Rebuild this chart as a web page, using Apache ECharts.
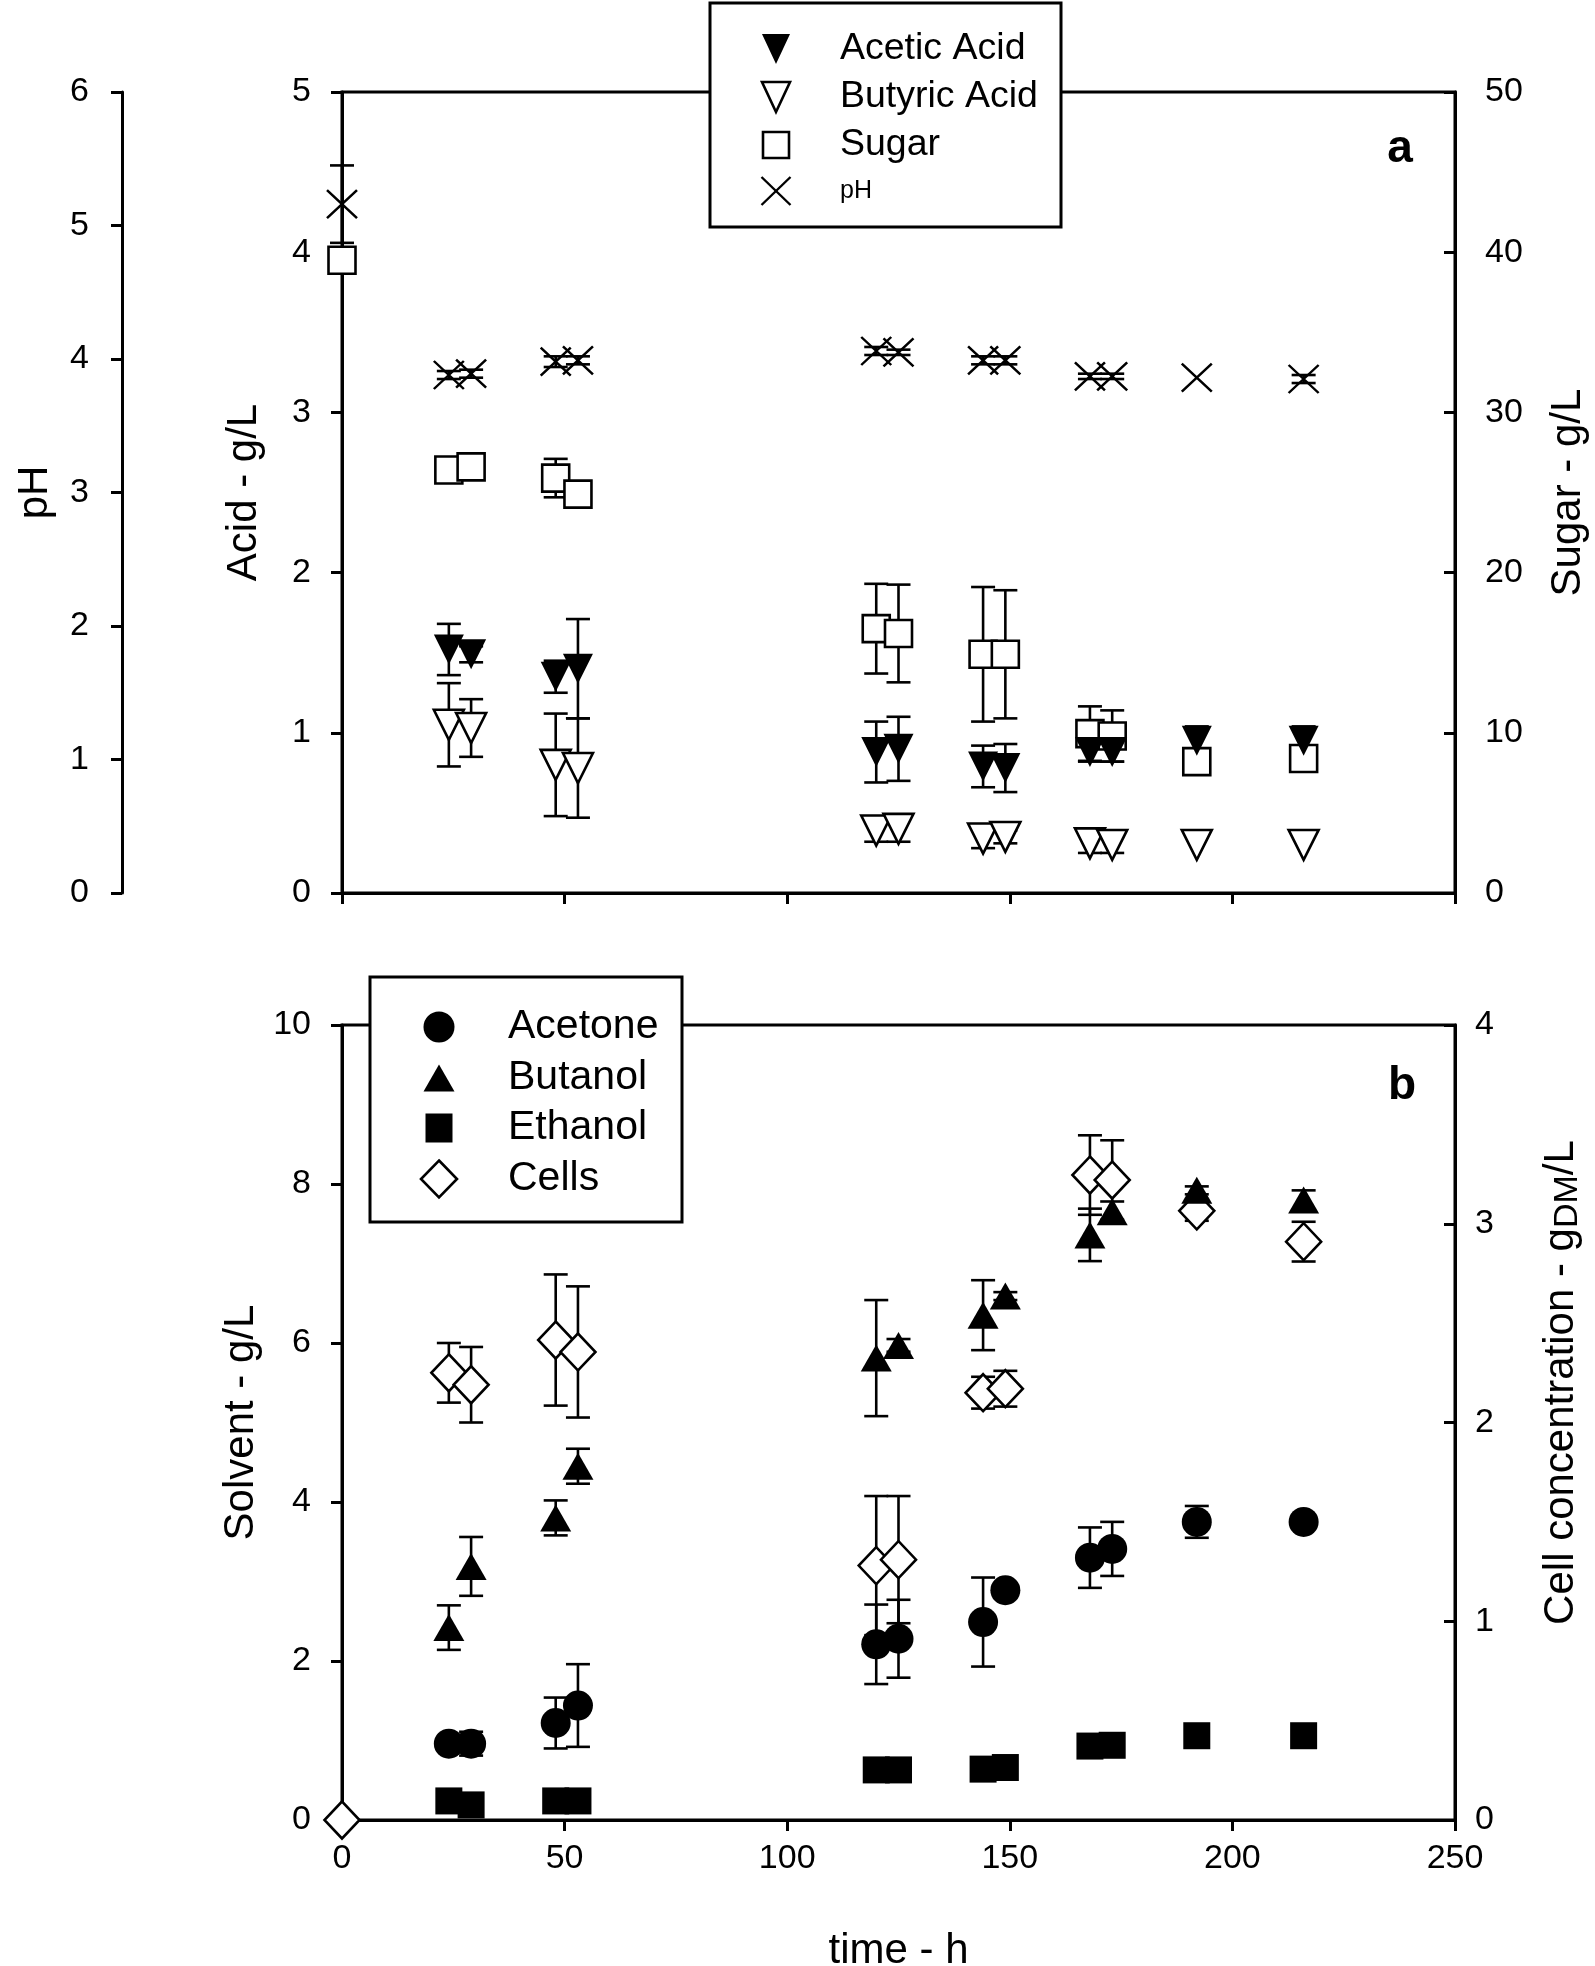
<!DOCTYPE html>
<html>
<head>
<meta charset="utf-8">
<script src="https://cdn.jsdelivr.net/npm/echarts@6/dist/echarts.min.js"></script>
<style>
html,body{margin:0;padding:0;background:#fff;}
#chart{width:1595px;height:1966px;}
</style>
</head>
<body>
<div id="chart"></div>
<script>
// ---- data ----
const times = [0, 24, 29, 48, 53, 120, 125, 144, 149, 168, 173, 192, 216];
const timeTicks = [0, 50, 100, 150, 200, 250];

// panel a
const aceticAcid  = [null, 1.52, 1.49, 1.35, 1.40, 0.88, 0.90, 0.79, 0.78, 0.88, 0.88, 0.95, 0.95];
const aceticErr   = [null, 0.16, 0.05, 0.10, 0.31, 0.19, 0.20, 0.13, 0.15, 0.06, 0.06, 0.09, 0.09];
const butyricAcid = [null, 1.05, 1.03, 0.80, 0.78, 0.39, 0.40, 0.34, 0.35, 0.31, 0.30, 0.30, 0.30];
const butyricErr  = [null, 0.26, 0.18, 0.32, 0.31, 0.07, 0.08, 0.06, 0.04, 0.06, 0.05, 0, 0];
const sugar       = [39.5, 26.4, 26.6, 25.9, 24.9, 16.5, 16.2, 14.9, 14.9, 9.95, 9.8, 8.2, 8.4];
const sugarErr    = [0.3, 0.3, 0.3, 1.2, 0.3, 2.8, 3.05, 4.2, 4.0, 1.7, 1.6, 0, 0];
const pHValues    = [5.16, 3.88, 3.89, 3.98, 3.99, 4.06, 4.05, 3.99, 3.99, 3.87, 3.87, 3.86, 3.85];
const pHErr       = [0.29, 0.03, 0.03, 0.04, 0.03, 0.03, 0.02, 0.03, 0.03, 0.02, 0.02, 0, 0.03];

// panel b
const acetone     = [null, 0.96, 0.96, 1.22, 1.44, 2.21, 2.28, 2.49, 2.89, 3.30, 3.41, 3.75, 3.75];
const acetoneErr  = [null, 0.05, 0.15, 0.32, 0.52, 0.50, 0.49, 0.56, 0, 0.38, 0.34, 0.20, 0.05];
const butanol     = [null, 2.42, 3.19, 3.80, 4.45, 5.81, 5.97, 6.35, 6.59, 7.36, 7.65, 7.92, 7.80];
const butanolErr  = [null, 0.28, 0.37, 0.22, 0.22, 0.73, 0.08, 0.44, 0.05, 0.33, 0.13, 0.05, 0.12];
const ethanol     = [null, 0.24, 0.19, 0.24, 0.24, 0.63, 0.63, 0.64, 0.66, 0.93, 0.94, 1.06, 1.06];
const cells       = [0, 2.25, 2.19, 2.415, 2.355, 1.28, 1.31, 2.15, 2.17, 3.245, 3.22, 3.065, 2.91];
const cellsErr    = [0, 0.15, 0.19, 0.33, 0.33, 0.35, 0.32, 0.08, 0.09, 0.20, 0.20, 0.05, 0.10];

const legendA = ['Acetic Acid', 'Butyric Acid', 'Sugar', 'pH'];
const legendB = ['Acetone', 'Butanol', 'Ethanol', 'Cells'];

// ---- helpers ----
const FONT = "'Liberation Sans', Arial, sans-serif";
const DOWN_TRI = 'path://M0,0L20,0L10,20Z';
const UP_TRI = 'path://M10,0L20,17.3L0,17.3Z';
const SQUARE = 'path://M0,0L10,0L10,10L0,10Z';
const DIAMOND = 'path://M10,0L20,10L10,20L0,10Z';
const X_MARK = 'path://M0,0L10,10M10,0L0,10';

function points(vals) {
  return times.map((t, i) => vals[i] == null ? null : [t, vals[i]]).filter(Boolean);
}
function errData(vals, errs) {
  return times.map((t, i) => (vals[i] == null || !errs[i]) ? null : [t, vals[i] - errs[i], vals[i] + errs[i]]).filter(Boolean);
}
function errSeries(name, vals, errs, xi, yi) {
  return {
    name: name + ' err', type: 'custom', xAxisIndex: xi, yAxisIndex: yi, clip: false, z: 1,
    encode: { x: 0, y: [1, 2] },
    data: errData(vals, errs),
    renderItem: function (params, api) {
      const x = api.value(0);
      const lo = api.coord([x, api.value(1)]);
      const hi = api.coord([x, api.value(2)]);
      const w = 12;
      const st = { stroke: '#000', lineWidth: 2.6 };
      return { type: 'group', children: [
        { type: 'line', shape: { x1: lo[0], y1: lo[1], x2: hi[0], y2: hi[1] }, style: st },
        { type: 'line', shape: { x1: hi[0] - w, y1: hi[1], x2: hi[0] + w, y2: hi[1] }, style: st },
        { type: 'line', shape: { x1: lo[0] - w, y1: lo[1], x2: lo[0] + w, y2: lo[1] }, style: st }
      ]};
    }
  };
}
function scatter(name, vals, xi, yi, symbol, size, itemStyle) {
  return { name: name, type: 'scatter', xAxisIndex: xi, yAxisIndex: yi, clip: false, z: 3,
    symbol: symbol, symbolSize: size, itemStyle: itemStyle, data: points(vals),
    emphasis: { disabled: true } };
}

const openStyle = { color: '#fff', borderColor: '#000', borderWidth: 2.6, opacity: 1 };
const fillStyle = { color: '#000', borderWidth: 0, opacity: 1 };
const xStyle = { color: 'transparent', borderColor: '#000', borderWidth: 2.4, opacity: 1 };

// legend keys built as graphic elements
const gOpen = { fill: '#fff', stroke: '#000', lineWidth: 2.6 };
const gFill = { fill: '#000' };
const gX = { fill: 'none', stroke: '#000', lineWidth: 2.4 };
function keySymbol(kind, cx, cy, w, h, style) {
  const l = cx - w / 2, r = cx + w / 2, t = cy - h / 2, b = cy + h / 2;
  if (kind === 'circle') return { type: 'circle', shape: { cx: cx, cy: cy, r: w / 2 }, style: style };
  if (kind === 'down') return { type: 'polygon', shape: { points: [[l, t], [r, t], [cx, b]] }, style: style };
  if (kind === 'up') return { type: 'polygon', shape: { points: [[cx, t], [r, b], [l, b]] }, style: style };
  if (kind === 'square') return { type: 'rect', shape: { x: l, y: t, width: w, height: h }, style: style };
  if (kind === 'diamond') return { type: 'polygon', shape: { points: [[cx, t], [r, cy], [cx, b], [l, cy]] }, style: style };
  if (kind === 'x') return { type: 'group', children: [
    { type: 'line', shape: { x1: l, y1: t, x2: r, y2: b }, style: style },
    { type: 'line', shape: { x1: r, y1: t, x2: l, y2: b }, style: style } ] };
}
function keyBox(box, names, specs, symX, textX, rowsY, fontSize) {
  const children = [{ type: 'rect', shape: { x: box[0], y: box[1], width: box[2], height: box[3] },
    style: { fill: '#fff', stroke: '#000', lineWidth: 3 } }];
  names.forEach((name, i) => {
    const s = specs[i];
    children.push(keySymbol(s[0], symX, rowsY[i], s[1], s[2], s[3]));
    children.push({ type: 'text', x: textX, y: rowsY[i],
      style: { text: name, fontSize: s[4] || fontSize, fontFamily: FONT, fill: '#000', align: 'left', verticalAlign: 'middle' } });
  });
  return { type: 'group', z: 100, children: children };
}

const axisLine = { show: true, onZero: false, lineStyle: { color: '#000', width: 3 } };
const tickOut = { show: true, inside: false, length: 11, lineStyle: { color: '#000', width: 3 } };
const tickIn = { show: true, inside: true, length: 11, lineStyle: { color: '#000', width: 3 } };
const labelStyle = (margin) => ({ show: true, color: '#000', fontSize: 34, fontFamily: FONT, margin: margin });
const nameStyle = { color: '#000', fontSize: 42, fontFamily: FONT, verticalAlign: 'middle', align: 'center' };

const chart = echarts.init(document.getElementById('chart'), null, { renderer: 'canvas' });

const option = {
  backgroundColor: '#fff',
  animation: false,
  grid: [
    { left: 342, top: 92, width: 1113, height: 801, containLabel: false, outerBoundsMode: 'none',
      show: true, borderColor: '#000', borderWidth: 3, backgroundColor: 'transparent' },
    { left: 342, top: 1025, width: 1113, height: 795, containLabel: false, outerBoundsMode: 'none',
      show: true, borderColor: '#000', borderWidth: 3, backgroundColor: 'transparent' }
  ],
  xAxis: [
    { gridIndex: 0, type: 'value', min: timeTicks[0], max: timeTicks[timeTicks.length - 1], interval: 50,
      axisLine: axisLine, axisTick: tickOut, axisLabel: { show: false }, splitLine: { show: false } },
    { gridIndex: 1, type: 'value', min: timeTicks[0], max: timeTicks[timeTicks.length - 1], interval: 50,
      axisLine: axisLine, axisTick: tickOut, axisLabel: labelStyle(22), splitLine: { show: false },
      name: 'time - h', nameLocation: 'middle', nameGap: 131, nameTextStyle: nameStyle }
  ],
  yAxis: [
    { gridIndex: 0, type: 'value', position: 'left', min: 0, max: 5, interval: 1,
      axisLine: axisLine, axisTick: tickOut, axisLabel: labelStyle(31), splitLine: { show: false },
      name: 'Acid - g/L', nameLocation: 'middle', nameGap: 98, nameTextStyle: nameStyle },
    { gridIndex: 0, type: 'value', position: 'right', min: 0, max: 50, interval: 10,
      axisLine: axisLine, axisTick: tickIn, axisLabel: labelStyle(30), splitLine: { show: false },
      name: 'Sugar - g/L', nameLocation: 'middle', nameGap: 113, nameTextStyle: nameStyle },
    { gridIndex: 0, type: 'value', position: 'left', offset: 220, min: 0, max: 6, interval: 1,
      axisLine: axisLine, axisTick: tickOut, axisLabel: labelStyle(33), splitLine: { show: false },
      name: 'pH', nameLocation: 'middle', nameGap: 87, nameTextStyle: nameStyle },
    { gridIndex: 1, type: 'value', position: 'left', min: 0, max: 10, interval: 2,
      axisLine: axisLine, axisTick: tickOut, axisLabel: labelStyle(31), splitLine: { show: false },
      name: 'Solvent - g/L', nameLocation: 'middle', nameGap: 98, nameTextStyle: nameStyle },
    { gridIndex: 1, type: 'value', position: 'right', min: 0, max: 4, interval: 1,
      axisLine: axisLine, axisTick: tickIn, axisLabel: labelStyle(20), splitLine: { show: false },
      name: 'Cell concentration - g{sub|DM}/L', nameLocation: 'middle', nameGap: 106,
      nameTextStyle: Object.assign({}, nameStyle, { padding: [0, 0, 0, 80],
        rich: { sub: { fontSize: 34, fontFamily: FONT, color: '#000', padding: [14, 0, 0, 0] } } }) }
  ],
  graphic: [
    keyBox([710, 3, 351, 224], legendA,
      [['down', 28, 30, gFill], ['down', 28, 30, gOpen], ['square', 26, 26, gOpen], ['x', 29, 28, gX, 25]],
      776, 840, [49, 97, 145, 191], 37.5),
    keyBox([370, 977, 312, 245], legendB,
      [['circle', 31, 31, gFill], ['up', 31, 27, gFill], ['square', 27, 29, gFill], ['diamond', 36, 37, gOpen]],
      439, 508, [1027, 1078, 1128, 1179], 41),
    { type: 'text', x: 1400, y: 149, z: 10, style: { text: 'a', fontSize: 46, fontWeight: 'bold', fontFamily: FONT, fill: '#000', align: 'center', verticalAlign: 'middle' } },
    { type: 'text', x: 1402, y: 1086, z: 10, style: { text: 'b', fontSize: 46, fontWeight: 'bold', fontFamily: FONT, fill: '#000', align: 'center', verticalAlign: 'middle' } }
  ],
  series: [
    errSeries('Sugar', sugar, sugarErr, 0, 1),
    errSeries('Acetic Acid', aceticAcid, aceticErr, 0, 0),
    errSeries('Butyric Acid', butyricAcid, butyricErr, 0, 0),
    errSeries('pH', pHValues, pHErr, 0, 2),
    errSeries('Cells', cells, cellsErr, 1, 4),
    errSeries('Acetone', acetone, acetoneErr, 1, 3),
    errSeries('Butanol', butanol, butanolErr, 1, 3),

    scatter(legendA[2], sugar, 0, 1, SQUARE, 27, openStyle),
    scatter(legendA[0], aceticAcid, 0, 0, DOWN_TRI, [30, 30], fillStyle),
    scatter(legendA[1], butyricAcid, 0, 0, DOWN_TRI, [30, 30], openStyle),
    scatter(legendA[3], pHValues, 0, 2, X_MARK, [30, 28], xStyle),

    scatter(legendB[3], cells, 1, 4, DIAMOND, [35, 37], openStyle),
    scatter(legendB[0], acetone, 1, 3, 'circle', 30, fillStyle),
    scatter(legendB[1], butanol, 1, 3, UP_TRI, [31, 27], fillStyle),
    scatter(legendB[2], ethanol, 1, 3, SQUARE, 27, fillStyle)
  ]
};
chart.setOption(option);
</script>
</body>
</html>
